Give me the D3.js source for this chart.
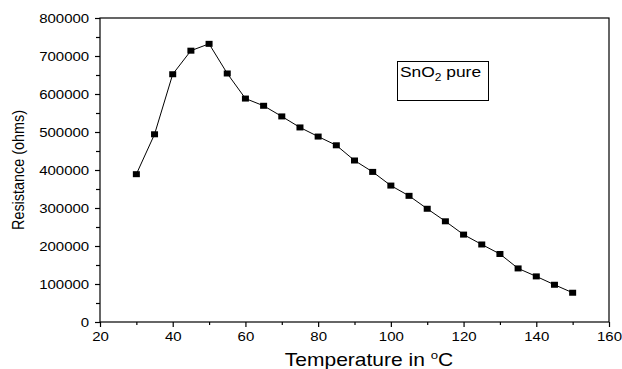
<!DOCTYPE html>
<html>
<head>
<meta charset="utf-8">
<script src="https://cdn.jsdelivr.net/npm/d3@7"></script>
<style>
  html, body { margin: 0; padding: 0; background: #fff; }
  svg { display: block; }
  text { font-family: "Liberation Sans", Arial, sans-serif; fill: #000; }
</style>
</head>
<body>
<svg id="chart" width="622" height="369"></svg>
<script>
// Resistance of pure SnO2 versus temperature
const temperatures = [30, 35, 40, 45, 50, 55, 60, 65, 70, 75, 80, 85, 90,
                      95, 100, 105, 110, 115, 120, 125, 130, 135, 140, 145, 150];
const resistance = [389000, 494000, 652000, 714000, 732000, 654000, 588000,
                    569000, 541000, 512000, 488000, 465000, 425000, 395000,
                    359000, 332000, 298000, 265000, 230000, 204000, 179000,
                    141000, 120000, 98000, 77000];
const xTickValues = [20, 40, 60, 80, 100, 120, 140, 160];
const xMinorValues = [30, 50, 70, 90, 110, 130, 150];
const yTickValues = [0, 100000, 200000, 300000, 400000, 500000, 600000, 700000, 800000];
const yMinorValues = [50000, 150000, 250000, 350000, 450000, 550000, 650000, 750000];
const xTitle = "Temperature in ";
const yTitle = "Resistance (ohms)";
const seriesLabel = "SnO";

const svg = d3.select("#chart");
const stretch = 1.2; // glyphs are drawn slightly wide

const x = d3.scaleLinear().domain([20, 160]).range([100, 609]);
const y = d3.scaleLinear().domain([0, 800000]).range([322, 18]);

// frame
svg.append("rect")
  .attr("x", x(20)).attr("y", y(800000))
  .attr("width", x(160) - x(20)).attr("height", y(0) - y(800000))
  .attr("fill", "none").attr("stroke", "#000").attr("stroke-width", 1.2);

// minor ticks
svg.append("g")
  .attr("transform", `translate(0,${y(0)})`)
  .call(d3.axisBottom(x).tickValues(xMinorValues).tickSize(3).tickFormat(""))
  .call(g => g.select(".domain").remove())
  .call(g => g.selectAll("line").attr("stroke-width", 1.2));
svg.append("g")
  .attr("transform", `translate(${x(20)},0)`)
  .call(d3.axisLeft(y).tickValues(yMinorValues).tickSize(4).tickFormat(""))
  .call(g => g.select(".domain").remove())
  .call(g => g.selectAll("line").attr("stroke-width", 1.2));

// major ticks with labels
const xAxis = svg.append("g")
  .attr("transform", `translate(0,${y(0)})`)
  .call(d3.axisBottom(x).tickValues(xTickValues).tickSize(5).tickPadding(5).tickFormat(d3.format("d")));
xAxis.select(".domain").remove();
xAxis.selectAll("line").attr("stroke-width", 1.2);
xAxis.selectAll("text")
  .attr("font-size", 12.5)
  .attr("transform", `scale(${stretch},1)`);

const yAxis = svg.append("g")
  .attr("transform", `translate(${x(20)},0)`)
  .call(d3.axisLeft(y).tickValues(yTickValues).tickSize(5).tickPadding(4).tickFormat(d3.format("d")));
yAxis.select(".domain").remove();
yAxis.selectAll("line").attr("stroke-width", 1.2);
yAxis.selectAll("text")
  .attr("font-size", 12.5)
  .attr("transform", `scale(${stretch},1)`);

// axis titles
const xt = svg.append("text")
  .attr("text-anchor", "middle")
  .attr("font-size", 17.5)
  .attr("transform", `translate(369,366) scale(${stretch},1)`);
xt.append("tspan").text(xTitle);
xt.append("tspan").attr("font-size", 11).attr("dy", -7).text("o");
xt.append("tspan").attr("dy", 7).text("C");

svg.append("text")
  .attr("text-anchor", "middle")
  .attr("font-size", 14.4)
  .attr("transform", `translate(24,170) scale(${stretch},1) rotate(-90)`)
  .text(yTitle);

// series line and square markers
const line = d3.line().x((d, i) => x(temperatures[i])).y(d => y(d));
svg.append("path")
  .datum(resistance)
  .attr("d", line)
  .attr("fill", "none")
  .attr("stroke", "#000")
  .attr("stroke-width", 1);

svg.append("g").selectAll("rect")
  .data(resistance)
  .join("rect")
  .attr("x", (d, i) => x(temperatures[i]) - 3.5)
  .attr("y", d => y(d) - 3)
  .attr("width", 7)
  .attr("height", 6)
  .attr("fill", "#000");

// series label box
svg.append("rect")
  .attr("x", 397.5).attr("y", 61.5)
  .attr("width", 91).attr("height", 39)
  .attr("fill", "#fff").attr("stroke", "#000").attr("stroke-width", 1);
const lt = svg.append("text")
  .attr("font-size", 14.5)
  .attr("transform", `translate(400,77) scale(${stretch},1)`);
lt.append("tspan").text(seriesLabel);
lt.append("tspan").attr("font-size", 10).attr("dy", 4).text("2");
lt.append("tspan").attr("dy", -4).text(" pure");
</script>
</body>
</html>
